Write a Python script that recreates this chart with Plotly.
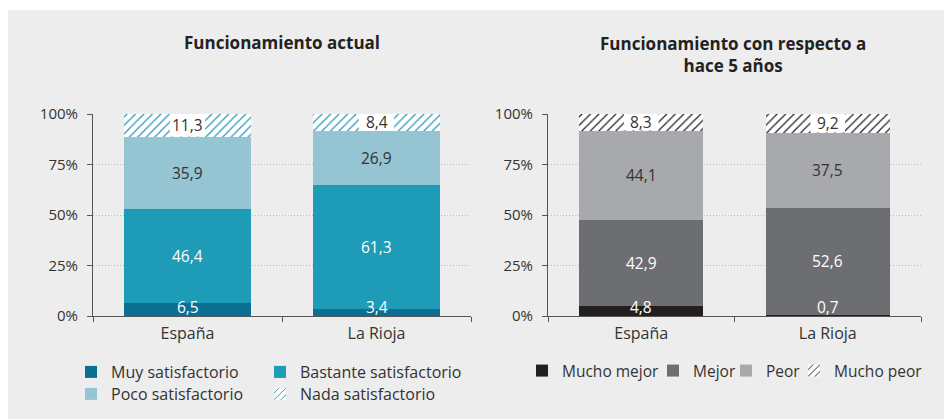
import plotly.graph_objects as go

# ---- data -------------------------------------------------------------
regions = ["España", "La Rioja"]

actual_names = ["Muy satisfactorio", "Bastante satisfactorio",
                "Poco satisfactorio", "Nada satisfactorio"]
muy_satisfactorio = [6.5, 3.4]
bastante_satisfactorio = [46.4, 61.3]
poco_satisfactorio = [35.9, 26.9]
nada_satisfactorio = [11.3, 8.4]

cambio_names = ["Mucho mejor", "Mejor", "Peor", "Mucho peor"]
mucho_mejor = [4.8, 0.7]
mejor = [42.9, 52.6]
peor = [44.1, 37.5]
mucho_peor = [8.3, 9.2]

y_tick_vals = [0, 25, 50, 75, 100]
y_tick_text = ["0%", "25%", "50%", "75%", "100%"]

title_actual = "<b>Funcionamiento actual</b>"
title_cambio = "<b>Funcionamiento con respecto a<br>hace 5 años</b>"

# ---- styling ----------------------------------------------------------
FONT = "Open Sans"
TEXT = "#333333"
BG = "#EDEDED"
actual_colors = ["#0B6F93", "#1D9BB7", "#95C4D3", "#2A97B9"]
cambio_colors = ["#231F20", "#6D6E71", "#A7A9AC", "#222222"]
label_colors = ["white", "white", TEXT, TEXT]

# pixel geometry of the plotting area
W, H = 944, 419
L, R, T, B = 93, 23, 114, 103
PW, PH = W - L - R, H - T - B


def px_x(px):
    return (px - L) / PW


def px_y(py):
    return (H - B - py) / PH


def fmt(v):
    return f"{v:.1f}".replace(".", ",")


fig = go.Figure()

panels = [
    ("x", "y", actual_names, [muy_satisfactorio, bastante_satisfactorio,
                              poco_satisfactorio, nada_satisfactorio], actual_colors),
    ("x2", "y2", cambio_names, [mucho_mejor, mejor, peor, mucho_peor], cambio_colors),
]

# legend entries: (x px of legend origin, y px of row centre, font size)
legend_pos = {
    "Muy satisfactorio": (71, 372, 16), "Bastante satisfactorio": (260, 372, 16),
    "Poco satisfactorio": (71, 394, 16), "Nada satisfactorio": (260, 394, 16),
    "Mucho mejor": (522, 371, 15.5), "Mejor": (653, 371, 15.5),
    "Peor": (726, 371, 15.5), "Mucho peor": (794, 371, 15.5),
}

annotations = []
shapes = []
legend_layouts = {}
legend_index = 0

for xa, ya, names, series, colors in panels:
    for k, (name, vals, col) in enumerate(zip(names, series, colors)):
        legend_index += 1
        lid = "legend" if legend_index == 1 else f"legend{legend_index}"
        hatched = k == 3
        marker = dict(color="white" if hatched else col, line=dict(width=0))
        if hatched:
            marker["pattern"] = dict(shape="/", fgcolor=col, bgcolor="white",
                                     size=6, solidity=0.2, fillmode="replace")
        fig.add_trace(go.Bar(
            x=regions, y=vals, name=name, marker=marker,
            width=0.667, xaxis=xa, yaxis=ya, legend=lid,
            hoverinfo="skip", textposition="none",
        ))
        lx, ly, lsize = legend_pos[name]
        legend_layouts[lid] = dict(
            x=lx / W, y=1 - ly / H, xref="container", yref="container",
            xanchor="left", yanchor="middle",
            orientation="h", bgcolor="rgba(0,0,0,0)",
            font=dict(family=FONT, size=lsize, color=TEXT),
            itemclick=False, itemdoubleclick=False,
        )

    # value labels inside every segment
    for i, reg in enumerate(regions):
        base = 0.0
        for k, vals in enumerate(series):
            v = vals[i]
            mid = base + v / 2
            if k == 0:
                mid = max(mid, 4.5)
            if k == 3:
                top = min(base + v, 100)
                shapes.append(dict(type="rect", xref=xa, yref=ya,
                                   x0=i - 0.093, x1=i + 0.093, y0=base, y1=top,
                                   fillcolor="white", line=dict(width=0),
                                   layer="above"))
                mid = (base + top) / 2
            annotations.append(dict(
                x=reg, y=mid, xref=xa, yref=ya, text=fmt(v), showarrow=False,
                xanchor="center", yanchor="middle",
                font=dict(family=FONT, size=15.5, color=label_colors[k]),
            ))
            base += v

# panel titles
annotations.append(dict(x=px_x(282), y=px_y(43), xref="paper", yref="paper",
                        xanchor="center", yanchor="middle",
                        text=title_actual, showarrow=False,
                        font=dict(family=FONT, size=17, color="#222222")))
annotations.append(dict(x=px_x(733), y=px_y(55), xref="paper", yref="paper",
                        xanchor="center", yanchor="middle",
                        text=title_cambio, showarrow=False,
                        font=dict(family=FONT, size=17, color="#222222")))

# white frame strips on top and left of the grey panel
shapes.append(dict(type="rect", xref="paper", yref="paper", layer="below",
                   x0=px_x(0), x1=px_x(W), y0=px_y(10), y1=px_y(0),
                   fillcolor="white", line=dict(width=0)))
shapes.append(dict(type="rect", xref="paper", yref="paper", layer="below",
                   x0=px_x(0), x1=px_x(8), y0=px_y(H), y1=px_y(0),
                   fillcolor="white", line=dict(width=0)))

xaxis_common = dict(
    type="category", showline=True, linecolor="#555555", linewidth=1,
    ticks="outside", tickson="boundaries", ticklen=5, tickcolor="#555555",
    tickfont=dict(family=FONT, size=16, color=TEXT), showgrid=False,
    ticklabelstandoff=3, fixedrange=True,
)
yaxis_common = dict(
    range=[0, 100], tickvals=y_tick_vals, ticktext=y_tick_text,
    showline=True, linecolor="#555555", linewidth=1,
    ticks="outside", ticklen=5, tickcolor="#555555",
    tickfont=dict(family=FONT, size=15, color=TEXT),
    showgrid=True, gridcolor="#BBBBBB", griddash="1px,2px", gridwidth=1,
    zeroline=False, ticklabelstandoff=6, fixedrange=True,
)

fig.update_layout(
    width=W, height=H,
    margin=dict(l=L, r=R, t=T, b=B, autoexpand=False),
    paper_bgcolor=BG, plot_bgcolor=BG,
    barmode="stack", bargap=0.333,
    showlegend=True,
    xaxis=dict(domain=[0, px_x(471)], anchor="y", **xaxis_common),
    yaxis=dict(domain=[0, 1], anchor="x", **yaxis_common),
    xaxis2=dict(domain=[px_x(548), 1], anchor="y2", **xaxis_common),
    yaxis2=dict(domain=[0, 1], anchor="x2", **yaxis_common),
    annotations=annotations,
    shapes=shapes,
    font=dict(family=FONT, color=TEXT),
    **legend_layouts,
)

fig.write_html("out.html")
